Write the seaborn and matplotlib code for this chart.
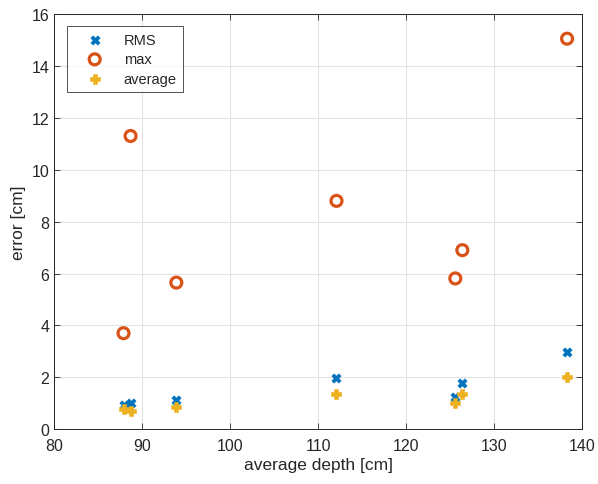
import pandas as pd
import numpy as np
import matplotlib.pyplot as plt
import seaborn as sns

# values
depth = [87.9, 88.7, 93.9, 112.1, 125.6, 126.4, 138.3]
rms = [0.95, 1.0, 1.12, 1.96, 1.25, 1.78, 2.96]
err_max = [3.7, 11.3, 5.65, 8.8, 5.81, 6.9, 15.05]
average = [0.76, 0.69, 0.84, 1.36, 1.0, 1.36, 2.0]

sns.set_style("whitegrid")
plt.rcParams['font.family'] = ['Liberation Sans', 'DejaVu Sans']

fig = plt.figure(figsize=(5.98, 4.85), dpi=100)
ax = fig.add_axes([0.0903, 0.113, 0.883, 0.856])

sns.scatterplot(x=depth, y=rms, marker='X', s=45, color='#0072BD',
                edgecolor='#0072BD', linewidth=0.4, label='RMS', ax=ax, zorder=3)
sns.scatterplot(x=depth, y=err_max, marker='o', s=62, facecolor='none',
                edgecolor='#D95319', linewidth=2.3, label='max', ax=ax, zorder=3)
sns.scatterplot(x=depth, y=average, marker='P', s=50, color='#EDB120',
                edgecolor='#EDB120', linewidth=0.4, label='average', ax=ax, zorder=3)

ax.set_xlim(80, 140)
ax.set_ylim(0, 16)
ax.set_xticks(np.arange(80, 141, 10))
ax.set_yticks(np.arange(0, 17, 2))
ax.set_xlabel('average depth [cm]', fontsize=12.5, color='#262626', labelpad=3)
ax.set_ylabel('error [cm]', fontsize=12.5, color='#262626')
ax.tick_params(labelsize=11.5, colors='#262626', direction='in', length=4,
               bottom=True, left=True, top=True, right=True, width=0.6)
ax.tick_params(axis='x', pad=6)
ax.tick_params(labeltop=False, labelright=False)
ax.grid(True, color='#e3e3e3', linewidth=0.8)
for s in ax.spines.values():
    s.set_color('#262626')
    s.set_linewidth(0.7)

leg = ax.legend(loc='upper left', bbox_to_anchor=(0.0246, 0.971), borderaxespad=0,
                fontsize=10.5, frameon=True, fancybox=False, borderpad=0.45,
                handletextpad=0.55, labelspacing=0.38, handlelength=2.9)
leg.get_frame().set_edgecolor('#262626')
leg.get_frame().set_linewidth(0.7)

fig.savefig('out.png', dpi=100)
